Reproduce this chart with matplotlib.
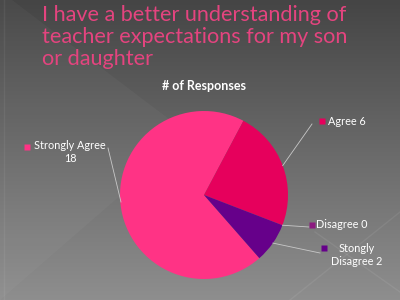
import numpy as np
import matplotlib.pyplot as plt
from matplotlib.patches import Polygon

# data
labels = ['Strongly Agree', 'Agree', 'Disagree', 'Stongly\nDisagree']
values = [18, 6, 0, 2]
colors = ['#FF3385', '#E6005C', '#8C1A80', '#66008A']
title = 'I have a better understanding of\nteacher expectations for my son\nor daughter'
chart_title = '# of Responses'

plt.rcParams['font.family'] = ['Lato', 'DejaVu Sans']

fig = plt.figure(figsize=(4, 3), dpi=100)

# slide background
bg = fig.add_axes([0, 0, 1, 1])
grad = np.linspace(0, 1, 300).reshape(-1, 1)
top = np.array([0x45, 0x45, 0x45]) / 255
bot = np.array([0x8e, 0x8e, 0x8e]) / 255
img = top + (bot - top) * grad[..., None]
bg.imshow(img, extent=[0, 400, 300, 0], aspect='auto')
bg.add_patch(Polygon([[0, 0], [12, 0], [190, 135], [0, 300]], closed=True,
                     fc='white', alpha=0.03, ec='none'))
bg.plot([290, 400], [300, 212], color='white', alpha=0.07, lw=1)
bg.plot([315, 400], [232, 292], color='white', alpha=0.07, lw=1)
bg.plot([4, 4], [0, 300], color='white', alpha=0.06, lw=1)
bg.set_xlim(0, 400)
bg.set_ylim(300, 0)
bg.axis('off')

bg.text(42, 37, title, color='#E4447F', fontsize=15.6, ha='left', va='center',
        linespacing=1.1)
bg.text(204, 86, chart_title, color='white', fontsize=9, fontweight='bold',
        ha='center', va='center')

# pie
ax = fig.add_axes([(204 - 84) / 400, 1 - (195 + 84) / 300, 168 / 400, 168 / 300])
total = sum(values)
start = 62 + 360 * values[0] / total
wedges, _ = ax.pie(values, colors=colors, startangle=start, counterclock=False,
                   radius=1, wedgeprops=dict(linewidth=0))
ax.set_xlim(-1, 1)
ax.set_ylim(-1, 1)
ax.set_aspect('equal')
ax.axis('off')

# label positions in pie data coords (1 unit = 84 px)
s = 84.0
def px(x, y):
    return ((x - 204) / s, (195 - y) / s)

lab_pos = [(70, 152), (347, 121), (342, 225), (357, 255)]
mark_pos = [(27, 147), (322, 121), (312, 225), (324, 248)]
line_end = [(108, 148), (312, 124), (309, 227), (320, 253)]
texts = ['Strongly Agree\n18', 'Agree 6', 'Disagree 0', 'Stongly\nDisagree 2']

for i, w in enumerate(wedges):
    mid = np.deg2rad((w.theta1 + w.theta2) / 2)
    ex, ey = np.cos(mid), np.sin(mid)
    if i == 0:
        ex, ey = px(121, 202)
    lx, ly = px(*line_end[i])
    ax.plot([ex, lx], [ey, ly], color='#C8C8C8', lw=0.6, clip_on=False)
    mx, my = px(*mark_pos[i])
    ax.plot(mx, my, marker='s', ms=4.5, color=colors[i], mec='none', clip_on=False)
    tx, ty = px(*lab_pos[i])
    ax.text(tx, ty, texts[i], color='white', fontsize=7.8, ha='center',
            va='center', linespacing=1.15)

fig.savefig('out.png', dpi=100)
